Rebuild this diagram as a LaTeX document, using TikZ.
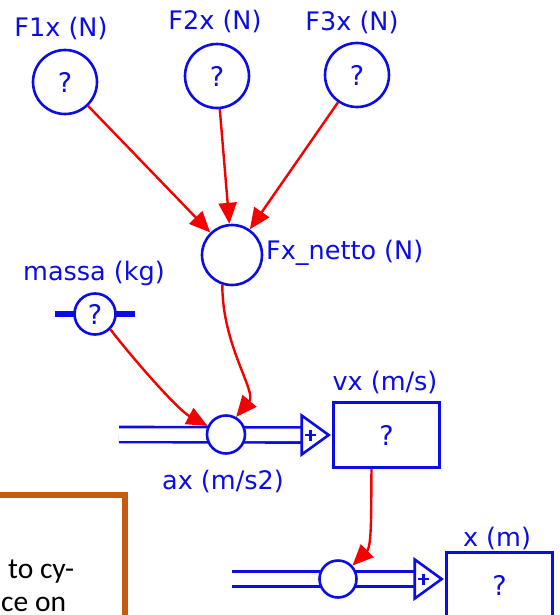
\documentclass[tikz,border=0pt]{standalone}
\usepackage{fontspec}
\setmainfont{DejaVu Sans}
\newfontfamily\notefont{Carlito}
\usepackage{xcolor}
\definecolor{stockblue}{RGB}{12,12,228}
\definecolor{linkred}{RGB}{245,0,0}
\definecolor{noteorange}{RGB}{197,90,17}
\usetikzlibrary{calc,arrows.meta,shapes.geometric}

\begin{document}
\begin{tikzpicture}[x=1pt, y=-1pt,
	conv/.style={circle, draw=stockblue, fill=white, line width=2.6pt, inner sep=0pt, text=stockblue, font=\fontsize{27}{27}\selectfont},
	stockbox/.style={rectangle, draw=stockblue, fill=white, line width=2.8pt, minimum width=106pt, minimum height=65pt, inner sep=0pt, text=stockblue, font=\fontsize{27}{27}\selectfont},
	inflow/.style={isosceles triangle, isosceles triangle stretches, draw=stockblue, fill=white, line width=2.6pt, minimum width=39pt, minimum height=27pt, inner sep=0pt, anchor=apex},
	varlab/.style={text=stockblue, inner sep=0pt, font=\fontsize{25.5}{26}\selectfont},
	pipe/.style={draw=stockblue, line width=2.6pt, double=white, double distance=12.5pt},
	plus/.style={draw=stockblue, line width=2.6pt},
	link/.style={draw=linkred, line width=2.4pt, -{Triangle[length=21pt, width=18pt]}},
	notetext/.style={inner sep=0pt, anchor=base west, font=\notefont\fontsize{29.5}{30}\selectfont}]
		\useasboundingbox (0,0) rectangle (559,615);
		\clip (0,0) rectangle (559,615);

		% flows and stocks
		\node[stockbox] (vx) at (386.5,435) {?};
		\node[stockbox] (xpos) at (499.5,585) {?};
		\coordinate (axsrc) at (119,434.5);
		\coordinate (vxbase) at ($(vx.west)+(-28,0)$);
		\coordinate (xsrc) at (232,579);
		\coordinate (xbase) at ($(xpos.west)+(-28,-6)$);
		\draw[pipe] (axsrc) -- (vxbase);
		\draw[pipe] (xsrc) -- (xbase);
		\node[inflow] (vxin) at (vx.west) {};
		\node[inflow] (xin) at ($(xpos.west)+(0,-6)$) {};
		\draw[plus] ($(vxin.lower side)+(10,0)$) ++(-5.5,0) -- ++(11,0) ++(-5.5,-5.5) -- ++(0,11);
		\draw[plus] ($(xin.lower side)+(10,0)$) ++(-5.5,0) -- ++(11,0) ++(-5.5,-5.5) -- ++(0,11);

		% converters
		\node[conv, minimum size=64pt] (f1x) at (65,82) {?};
		\node[conv, minimum size=64pt] (f2x) at (217,76) {?};
		\node[conv, minimum size=64pt] (f3x) at (357,75) {?};
		\node[conv, minimum size=60pt] (fxn) at (232,255) {};
		\draw[stockblue, line width=5.5pt] (95,314) ++(-40,0) -- ++(80,0);
		\node[conv, minimum size=41pt] (massa) at (95,314) {?};
		\node[conv, minimum size=38pt] (ax) at (226,434.5) {};
		\node[conv, minimum size=37pt] (xflow) at (338,579) {};

		\node[varlab] (f1xlab) at (61,29) {F1x (N)};
		\node[varlab] (f2xlab) at (215,22) {F2x (N)};
		\node[varlab] (f3xlab) at (352,23) {F3x (N)};
		\node[varlab, anchor=west] (fxnlab) at (266,253) {Fx\_netto (N)};
		\node[varlab] (massalab) at (94,273) {massa (kg)};
		\node[varlab] (axlab) at (223,482) {ax (m/s2)};
		\node[varlab] (vxlab) at (385,383) {vx (m/s)};
		\node[varlab] (xposlab) at (497,538) {x (m)};

		% connectors
		\draw[link] (f1x) -- (fxn);
		\draw[link] (f2x) -- (fxn);
		\draw[link] (f3x) -- (fxn);
		\draw[link] (fxn.252) .. controls (222,345) and (257,392) .. (ax.60);
		\draw[link] (massa.-45) .. controls (134,360) and (178,410) .. (ax.155);
		\draw[link] ($(vx.south)+(-15,0)$) .. controls (371,510) and (372,546) .. (xflow.43);

		% note box, cut by the frame
		\draw[noteorange, line width=6pt] (-20,495) -- (124.5,495) -- (124.5,640);
		\node[notetext] (note1) at (8,578) {to cy-};
		\node[notetext] (note2) at (1,611) {ce on};
	\end{tikzpicture}
\end{document}
